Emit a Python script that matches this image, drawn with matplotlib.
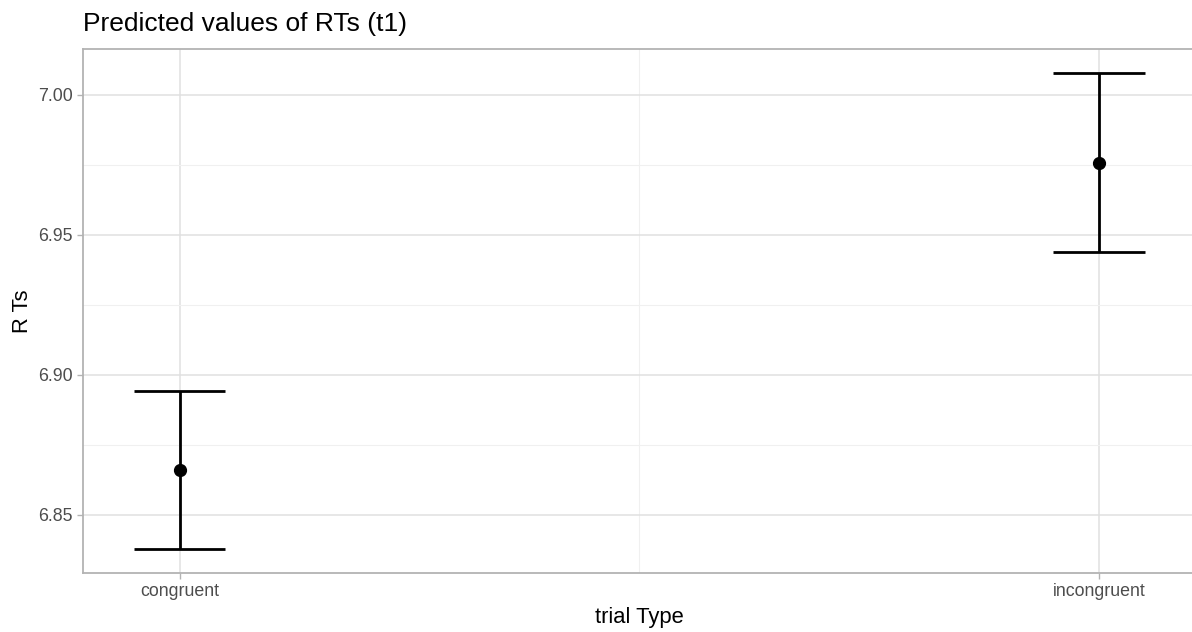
import matplotlib
matplotlib.use("Agg")
import matplotlib.pyplot as plt
from matplotlib.ticker import MultipleLocator

plt.rcParams["font.family"] = ["Liberation Sans", "DejaVu Sans"]

# predicted RTs with confidence intervals
trial_types = ["congruent", "incongruent"]
predicted = [6.8661, 6.9756]
ci_low = [6.8378, 6.9438]
ci_high = [6.8944, 7.0079]

y_ticks = [6.85, 6.90, 6.95, 7.00]
y_tick_labels = ["6.85", "6.90", "6.95", "7.00"]

fig = plt.figure(figsize=(11.92, 6.32), dpi=100)
ax = fig.add_axes([0.0696, 0.0934, 0.9334, 0.8291])

xpos = list(range(1, len(trial_types) + 1))
err_lo = [p - lo for p, lo in zip(predicted, ci_low)]
err_hi = [hi - p for p, hi in zip(predicted, ci_high)]

ax.errorbar(xpos, predicted, yerr=[err_lo, err_hi], fmt="none",
            ecolor="black", elinewidth=2.0, capsize=0, zorder=3)
# ggplot-style caps: horizontal segments 0.1 wide
for x, lo, hi in zip(xpos, ci_low, ci_high):
    ax.hlines([lo, hi], x - 0.05, x + 0.05, colors="black", linewidth=2.0, zorder=3)
ax.plot(xpos, predicted, "o", color="black", markersize=8.5, zorder=4)

span = max(ci_high) - min(ci_low)
ax.set_ylim(min(ci_low) - 0.05 * span, max(ci_high) + 0.05 * span)
ax.set_xlim(0.895, 2.105)

ax.set_xticks(xpos)
ax.set_xticklabels(trial_types)
ax.set_yticks(y_ticks)
ax.set_yticklabels(y_tick_labels)
ax.xaxis.set_minor_locator(MultipleLocator(0.5))
ax.yaxis.set_minor_locator(MultipleLocator(0.025))

ax.grid(which="major", color="#E0E0E0", linewidth=1.1)
ax.grid(which="minor", color="#F0F0F0", linewidth=0.8)
ax.set_axisbelow(True)

for side in ["left", "bottom", "top"]:
    ax.spines[side].set_color("#B3B3B3")
    ax.spines[side].set_linewidth(1.3)
ax.spines["right"].set_visible(False)

ax.tick_params(which="major", length=4.3, width=1.0, color="#B3B3B3",
               labelsize=12.8, labelcolor="#4D4D4D", pad=3)
ax.tick_params(which="minor", length=0)

ax.set_xlabel("trial Type", fontsize=15.8, labelpad=5)
fig.text(22 / 1192, 1 - 311 / 632, "R Ts", rotation=90, fontsize=15.8,
         ha="center", va="center")
fig.text(83 / 1192, 1 - 24 / 632, "Predicted values of RTs (t1)", fontsize=19,
         ha="left", va="center")

fig.savefig("out.png", dpi=100)
